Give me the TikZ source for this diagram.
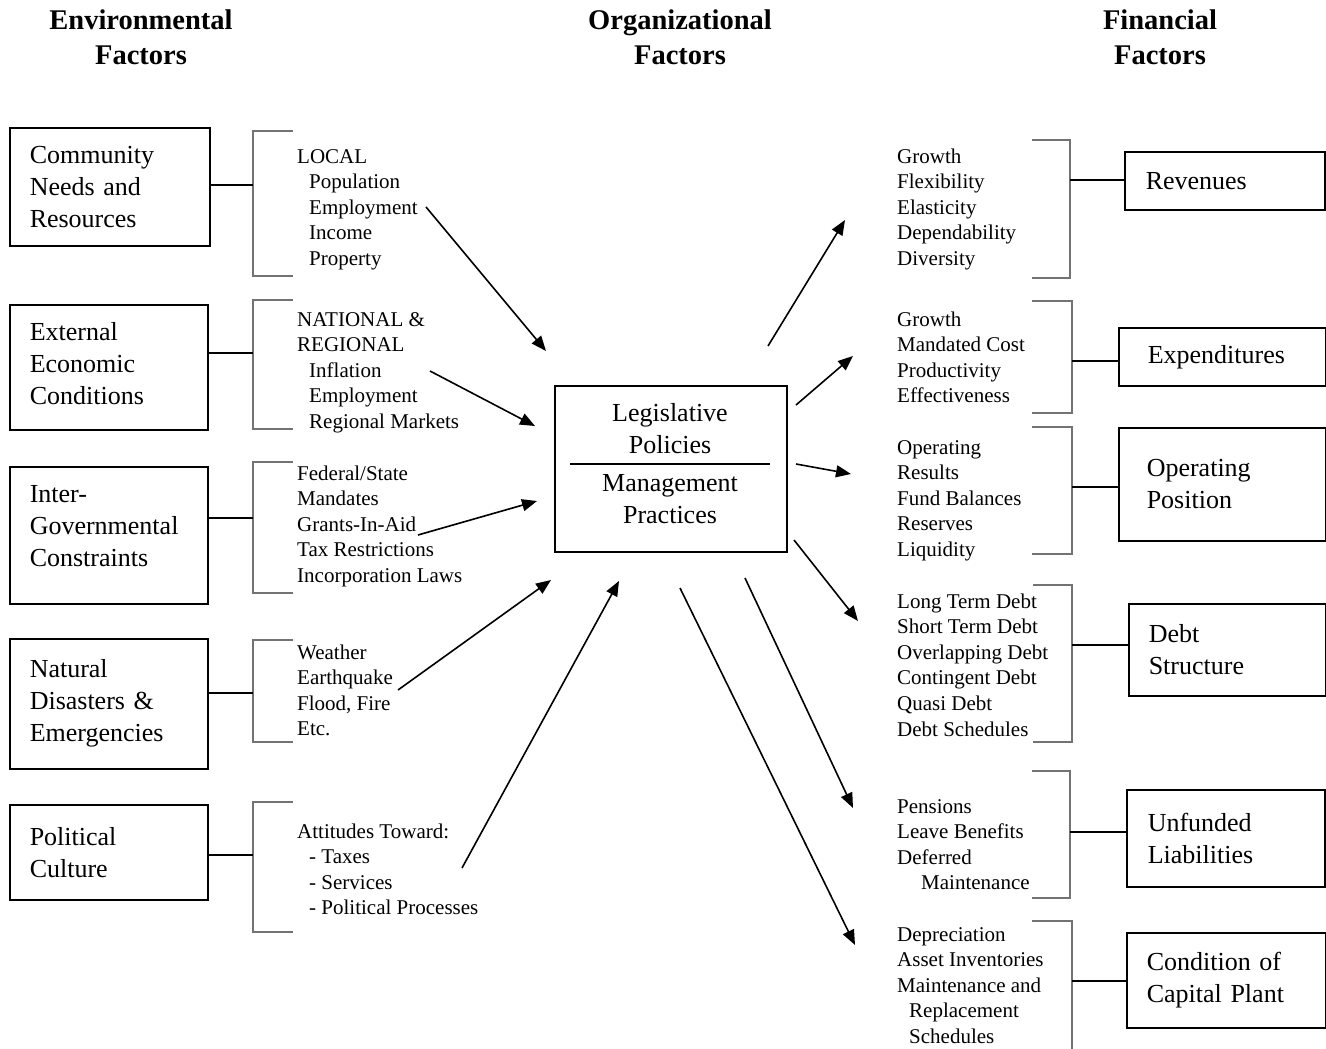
\documentclass[tikz,border=0pt]{standalone}
\usepackage{fontspec}
\setmainfont{Liberation Serif}
\usetikzlibrary{arrows.meta}
\newcommand\myind{\hspace*{12pt}}
\newcommand\myindd{\hspace*{24pt}}
\begin{document}
\begin{tikzpicture}[x=1pt,y=-1pt,
  box/.style={draw,line width=1.5pt,anchor=north west,align=left,inner ysep=0pt,inner xsep=20pt,font=\fontsize{26}{32}\selectfont},
  item/.style={anchor=base west,inner sep=0pt,font=\fontsize{21}{25.6}\selectfont},
  ttl/.style={anchor=base,inner sep=0pt,font=\fontsize{28.5}{35}\selectfont\bfseries},
  core/.style={anchor=base,inner sep=0pt,font=\fontsize{26}{32}\selectfont},
  bracket/.style={draw=black!55,line width=2pt},
  link/.style={draw,line width=1.1pt},
  arr/.style={draw,line width=1.6pt,-{Triangle[length=15pt,width=12pt]}}
]
\useasboundingbox (0,0) rectangle (1326,1049);

% titles
\node[ttl] (t1a) at (141,30) {Environmental};
\node[ttl] (t1b) at (141,65) {Factors};
\node[ttl] (t2a) at (680,30) {Organizational};
\node[ttl] (t2b) at (680,65) {Factors};
\node[ttl] (t3a) at (1160,30) {Financial};
\node[ttl] (t3b) at (1160,65) {Factors};

% left boxes
\node[box,minimum width=200,minimum height=118,text width=160] (b1) at (9,127) {Community\\Needs and\\Resources};
\node[box,minimum width=198,minimum height=125,text width=158] (b2) at (9,304) {External\\Economic\\Conditions\\[-24pt]\mbox{}};
\node[box,minimum width=198,minimum height=137,text width=158] (b3) at (9,466) {Inter-\\Governmental\\Constraints\\[-14pt]\mbox{}};
\node[box,minimum width=198,minimum height=130,text width=158] (b4) at (9,638) {Natural\\Disasters \&\\Emergencies\\[-26pt]\mbox{}};
\node[box,minimum width=198,minimum height=95,text width=158] (b5) at (9,804) {Political\\Culture};

% right boxes
\node[box,minimum width=200,minimum height=58,inner xsep=21pt,text width=158] (r1) at (1124,151) {Revenues};
\node[box,minimum width=207,minimum height=58,inner xsep=29pt,text width=149] (r2) at (1118,327) {Expenditures};
\node[box,minimum width=207,minimum height=113,inner xsep=28pt,text width=151] (r3) at (1118,427) {Operating\\Position};
\node[box,minimum width=197,minimum height=92,inner xsep=20pt,text width=157] (r4) at (1128,603) {Debt\\Structure};
\node[box,minimum width=198,minimum height=97,inner xsep=21pt,text width=156] (r5) at (1126,789) {Unfunded\\Liabilities};
\node[box,minimum width=199,minimum height=95,inner xsep=20pt,text width=159] (r6) at (1126,932) {Condition of\\Capital Plant};

% central box
\node[draw,line width=1.5pt,anchor=north west,minimum width=232,minimum height=166,inner sep=0pt] (core) at (554,385) {};
\node[core] (c1) at (670,421) {Legislative};
\node[core] (c2) at (670,453) {Policies};
\node[core] (c3) at (670,491) {Management};
\node[core] (c4) at (670,523) {Practices};
\draw[line width=1.5pt] (570,464) -- (770,464);

% left lists
\foreach \t [count=\i from 0] in {LOCAL,\myind Population,\myind Employment,\myind Income,\myind Property}
  \node[item] (la\i) at (297,163+25.6*\i) {\t};
\foreach \t [count=\i from 0] in {NATIONAL \&,REGIONAL,\myind Inflation,\myind Employment,\myind Regional Markets}
  \node[item] (lb\i) at (297,326+25.6*\i) {\t};
\foreach \t [count=\i from 0] in {Federal/State,Mandates,Grants-In-Aid,Tax Restrictions,Incorporation Laws}
  \node[item] (lc\i) at (297,480+25.6*\i) {\t};
\foreach \t [count=\i from 0] in {Weather,Earthquake,{Flood, Fire},Etc.}
  \node[item] (ld\i) at (297,659+25.6*\i) {\t};
\foreach \t [count=\i from 0] in {Attitudes Toward:,\myind - Taxes,\myind - Services,\myind - Political Processes}
  \node[item] (le\i) at (297,838+25.6*\i) {\t};

% right lists
\foreach \t [count=\i from 0] in {Growth,Flexibility,Elasticity,Dependability,Diversity}
  \node[item] (ra\i) at (897,163+25.6*\i) {\t};
\foreach \t [count=\i from 0] in {Growth,Mandated Cost,Productivity,Effectiveness}
  \node[item] (rb\i) at (897,326+25.6*\i) {\t};
\foreach \t [count=\i from 0] in {Operating,Results,Fund Balances,Reserves,Liquidity}
  \node[item] (rc\i) at (897,454+25.6*\i) {\t};
\foreach \t [count=\i from 0] in {Long Term Debt,Short Term Debt,Overlapping Debt,Contingent Debt,Quasi Debt,Debt Schedules}
  \node[item] (rd\i) at (897,608+25.6*\i) {\t};
\foreach \t [count=\i from 0] in {Pensions,Leave Benefits,Deferred,\myindd Maintenance}
  \node[item] (re\i) at (897,813+25.6*\i) {\t};
\foreach \t [count=\i from 0] in {Depreciation,Asset Inventories,Maintenance and,\myind Replacement,\myind Schedules}
  \node[item] (rf\i) at (897,941+25.6*\i) {\t};

% left brackets
\draw[bracket] (293,131) -| (253,276) -- (293,276);
\draw[bracket] (293,300) -| (253,429) -- (293,429);
\draw[bracket] (293,462) -| (253,593) -- (293,593);
\draw[bracket] (293,640) -| (253,742) -- (293,742);
\draw[bracket] (293,802) -| (253,932) -- (293,932);
\coordinate (kl1) at (253,185);
\coordinate (kl2) at (253,353);
\coordinate (kl3) at (253,518);
\coordinate (kl4) at (253,693);
\coordinate (kl5) at (253,855);
\draw[link] (b1.east |- kl1) -- (kl1);
\draw[link] (b2.east |- kl2) -- (kl2);
\draw[link] (b3.east |- kl3) -- (kl3);
\draw[link] (b4.east |- kl4) -- (kl4);
\draw[link] (b5.east |- kl5) -- (kl5);

% right brackets
\draw[bracket] (1032,140) -| (1070,278) -- (1032,278);
\draw[bracket] (1032,301) -| (1072,413) -- (1032,413);
\draw[bracket] (1032,427) -| (1072,554) -- (1032,554);
\draw[bracket] (1033,585) -| (1072,742) -- (1033,742);
\draw[bracket] (1032,771) -| (1070,898) -- (1032,898);
\draw[bracket] (1032,921) -| (1072,1052);
\coordinate (kr1) at (1070,180);
\coordinate (kr2) at (1072,361);
\coordinate (kr3) at (1072,487);
\coordinate (kr4) at (1072,645);
\coordinate (kr5) at (1070,832);
\coordinate (kr6) at (1072,981);
\draw[link] (kr1) -- (r1.west |- kr1);
\draw[link] (kr2) -- (r2.west |- kr2);
\draw[link] (kr3) -- (r3.west |- kr3);
\draw[link] (kr4) -- (r4.west |- kr4);
\draw[link] (kr5) -- (r5.west |- kr5);
\draw[link] (kr6) -- (r6.west |- kr6);

% incoming arrows
\coordinate (s1) at (426,207); \coordinate (e1) at (546,351);
\coordinate (s2) at (430,371); \coordinate (e2) at (535,426);
\coordinate (s3) at (418,535); \coordinate (e3) at (537,501);
\coordinate (s4) at (398,690); \coordinate (e4) at (551,580);
\coordinate (s5) at (462,868); \coordinate (e5) at (619,581);
\foreach \k in {1,...,5} \draw[arr] (s\k) -- (e\k);

% outgoing arrows
\coordinate (o1) at (768,346); \coordinate (p1) at (845,220);
\coordinate (o2) at (796,405); \coordinate (p2) at (853,356);
\coordinate (o3) at (796,464); \coordinate (p3) at (851,474);
\coordinate (o4) at (794,540); \coordinate (p4) at (858,621);
\coordinate (o5) at (745,578); \coordinate (p5) at (853,808);
\coordinate (o6) at (680,588); \coordinate (p6) at (855,945);
\foreach \k in {1,...,6} \draw[arr] (o\k) -- (p\k);
\end{tikzpicture}
\end{document}
